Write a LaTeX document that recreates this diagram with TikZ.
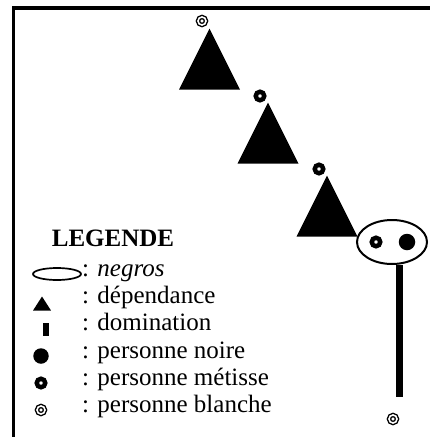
\documentclass[tikz,border=0pt]{standalone}
\usepackage{fontspec}
\setmainfont{Liberation Serif}
\usetikzlibrary{shapes,calc}

\begin{document}
\begin{tikzpicture}[x=1pt,y=-1pt,
 tri/.style={isosceles triangle,isosceles triangle stretches,shape border rotate=90,fill=black,inner sep=0pt,minimum width=61pt,minimum height=61pt,anchor=apex},
 blanc/.style={circle,draw,fill=white,line width=1.4pt,double distance=1.6pt,minimum size=8pt,inner sep=0pt},
 metis/.style={circle,draw,fill=white,line width=4.5pt,minimum size=8.5pt,inner sep=0pt},
 noir/.style={circle,fill=black,minimum size=16.5pt,inner sep=0pt},
 leg/.style={anchor=mid west,font=\fontsize{25}{28}\selectfont,inner sep=0pt}]
\useasboundingbox (0,0) rectangle (430,437);
\draw[line width=3.2pt] (13.5,437) -- (13.5,8) -- (430,8);

\node[tri] (t1) at (209.5,28) {};
\node[tri] (t2) at (268,102) {};
\node[tri] (t3) at (327,175) {};
\node[blanc] (b1) at (202,21) {};
\node[metis] (m2) at (260,96) {};
\node[metis] (m3) at (319,169) {};

\node[ellipse,draw,fill=white,line width=2pt,minimum width=70pt,minimum height=44pt,inner sep=0pt] (neg) at (392,242) {};
\node[metis] (m4) at (376,242) {};
\node[noir] (n4) at (407,242) {};
\node[blanc] (b4) at (393,419) {};
\coordinate (dom) at (399.5,397);
\draw[line width=7.5pt] (neg.south -| dom) -- (dom);

\node[font=\bfseries\fontsize{25}{28}\selectfont] (titre) at (113,238) {LEGENDE};
\node[ellipse,draw,line width=1.7pt,minimum width=48pt,minimum height=12pt,inner sep=0pt] (l1) at (57,274) {};
\node[tri,minimum width=18pt,minimum height=14pt] (l2) at (42,296) {};
\node[fill=black,minimum width=6pt,minimum height=13pt,inner sep=0pt] (l3) at (45.5,329) {};
\node[noir,minimum size=15.5pt] (l4) at (41,356) {};
\node[metis] (l5) at (41,383) {};
\node[blanc] (l6) at (41,410) {};

\node[leg] (x1) at (82,274) {: \textit{negros}};
\node[leg] (x2) at (82,301) {: dépendance};
\node[leg] (x3) at (82,328) {: domination};
\node[leg] (x4) at (82,356) {: personne noire};
\node[leg] (x5) at (82,383) {: personne métisse};
\node[leg] (x6) at (82,410) {: personne blanche};
\end{tikzpicture}
\end{document}
